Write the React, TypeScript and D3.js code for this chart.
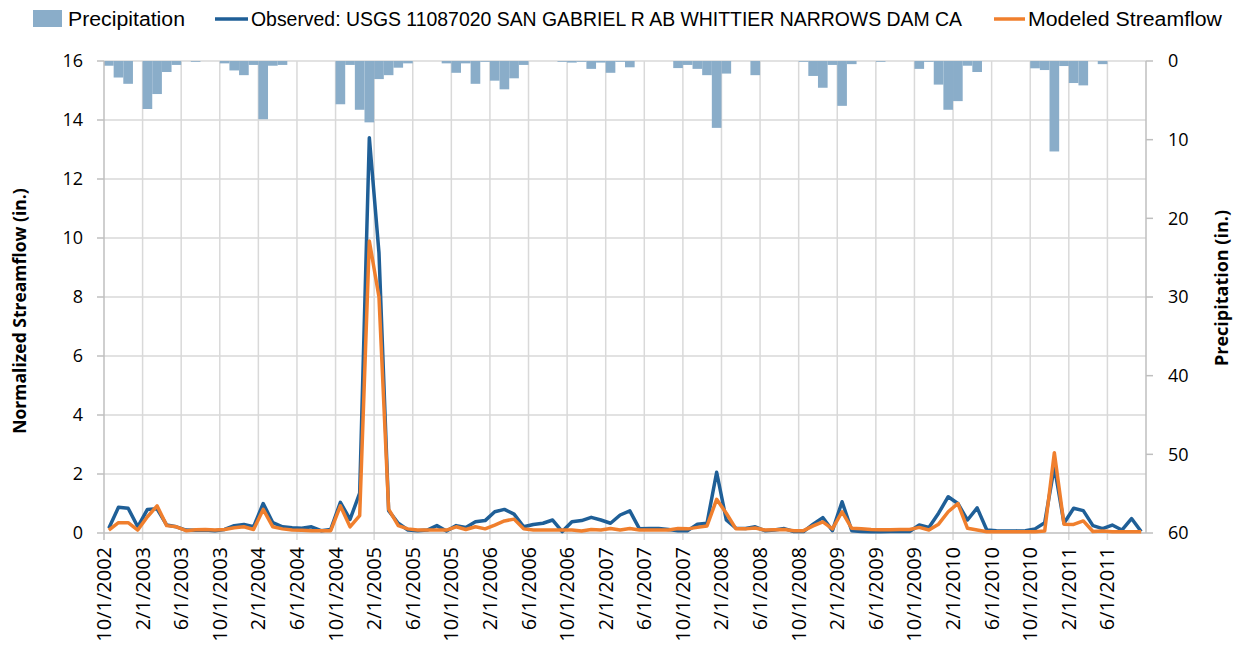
import React from "react";
import * as d3 from "d3";

// monthly values, Oct 2002 - Sep 2011
const precipitation = [
  0.6, 2.1, 2.9, 0, 6.1, 4.2, 1.4, 0.5, 0, 0.1, 0, 0,
  0.3, 1.2, 1.8, 0.5, 7.4, 0.6, 0.5, 0, 0, 0, 0, 0,
  5.5, 0.5, 6.2, 7.8, 2.3, 1.8, 0.85, 0.3, 0, 0, 0, 0.3,
  1.5, 0.3, 2.9, 0.1, 2.5, 3.6, 2.2, 0.5, 0, 0, 0, 0.1,
  0.2, 0.1, 1.0, 0.2, 1.5, 0.1, 0.8, 0, 0, 0, 0, 0.9,
  0.5, 1.0, 1.8, 8.5, 1.6, 0, 0, 1.8, 0, 0, 0, 0,
  0.1, 1.9, 3.4, 0.5, 5.7, 0.4, 0, 0, 0.1, 0, 0, 0,
  1.0, 0.1, 3.0, 6.2, 5.1, 0.6, 1.4, 0, 0, 0, 0, 0,
  0.93, 1.15, 11.5, 0.64, 2.8, 3.1, 0, 0.4, 0, 0, 0, 0,
];

const observed = [
  0.16, 0.87, 0.84, 0.21, 0.8, 0.82, 0.27, 0.21, 0.1, 0.09, 0.1, 0.08,
  0.12, 0.25, 0.29, 0.21, 1.0, 0.35, 0.21, 0.18, 0.16, 0.21, 0.08, 0.12,
  1.04, 0.46, 1.35, 13.4, 9.5, 0.76, 0.33, 0.1, 0.08, 0.1, 0.25, 0.07,
  0.25, 0.19, 0.38, 0.42, 0.72, 0.8, 0.64, 0.21, 0.29, 0.33, 0.44, 0.05,
  0.38, 0.42, 0.53, 0.44, 0.33, 0.61, 0.75, 0.14, 0.15, 0.15, 0.12, 0.08,
  0.08, 0.3, 0.33, 2.06, 0.44, 0.16, 0.15, 0.21, 0.08, 0.1, 0.15, 0.05,
  0.05, 0.3, 0.52, 0.08, 1.06, 0.08, 0.05, 0.04, 0.04, 0.05, 0.05, 0.05,
  0.27, 0.19, 0.67, 1.23, 1.0, 0.44, 0.85, 0.1, 0.08, 0.07, 0.07, 0.08,
  0.14, 0.35, 2.25, 0.33, 0.84, 0.76, 0.25, 0.15, 0.27, 0.1, 0.49, 0.05,
];

const modeled = [
  0.1, 0.35, 0.35, 0.1, 0.55, 0.92, 0.25, 0.21, 0.08, 0.11, 0.12, 0.1,
  0.12, 0.18, 0.21, 0.12, 0.8, 0.21, 0.14, 0.1, 0.09, 0.08, 0.08, 0.08,
  0.92, 0.21, 0.59, 9.9, 8.0, 0.81, 0.25, 0.14, 0.1, 0.1, 0.1, 0.1,
  0.21, 0.12, 0.21, 0.14, 0.27, 0.41, 0.47, 0.14, 0.1, 0.1, 0.1, 0.1,
  0.1, 0.07, 0.12, 0.1, 0.15, 0.1, 0.15, 0.1, 0.1, 0.1, 0.1, 0.15,
  0.14, 0.19, 0.24, 1.14, 0.67, 0.14, 0.14, 0.17, 0.1, 0.11, 0.12, 0.08,
  0.08, 0.24, 0.38, 0.14, 0.72, 0.16, 0.14, 0.12, 0.11, 0.11, 0.12, 0.12,
  0.19, 0.1, 0.3, 0.72, 1.0, 0.16, 0.1, 0.04, 0.04, 0.04, 0.04, 0.04,
  0.04, 0.07, 2.72, 0.3, 0.29, 0.41, 0.05, 0.07, 0.04, 0.04, 0.04, 0.04,
];

// one label every 4 months
const dateLabels = [
  "10/1/2002", "2/1/2003", "6/1/2003", "10/1/2003", "2/1/2004", "6/1/2004",
  "10/1/2004", "2/1/2005", "6/1/2005", "10/1/2005", "2/1/2006", "6/1/2006",
  "10/1/2006", "2/1/2007", "6/1/2007", "10/1/2007", "2/1/2008", "6/1/2008",
  "10/1/2008", "2/1/2009", "6/1/2009", "10/1/2009", "2/1/2010", "6/1/2010",
  "10/1/2010", "2/1/2011", "6/1/2011",
];

const flowTicks = [0, 2, 4, 6, 8, 10, 12, 14, 16];
const precipTicks = [0, 10, 20, 30, 40, 50, 60];

const width = 1239;
const height = 650;
const margin = { top: 61, right: 93, bottom: 117, left: 104 };
const fontFamily = "'Open Sans', 'DejaVu Sans', sans-serif";
const legendFont = "'Liberation Sans Narrow', 'Liberation Sans', sans-serif";

const App = () => {
  const n = precipitation.length;
  const x = d3.scaleLinear().domain([0, n]).range([margin.left, width - margin.right]);
  const y = d3.scaleLinear().domain([0, 16]).range([height - margin.bottom, margin.top]);
  const yP = d3.scaleLinear().domain([0, 60]).range([margin.top, height - margin.bottom]);

  const line = d3
    .line<number>()
    .x((d, i) => x(i + 0.5))
    .y((d) => y(d));

  const x0 = x(0);
  const x1 = x(n);
  const yBase = y(0);
  const gridColor = "#d9d9d9";
  const axisColor = "#bfbfbf";

  return (
    <svg
      width={width}
      height={height}
      style={{ position: "absolute", left: 0, top: 0, background: "#fff" }}
    >
      {/* gridlines */}
      {flowTicks.slice(1).map((t) => (
        <line key={"h" + t} x1={x0} x2={x1} y1={y(t)} y2={y(t)} stroke={gridColor} strokeWidth={1.5} />
      ))}
      {dateLabels.map((lab, k) =>
        k === 0 ? null : (
          <line key={"v" + k} x1={x(k * 4)} x2={x(k * 4)} y1={margin.top} y2={yBase + 7} stroke={gridColor} strokeWidth={1.5} />
        )
      )}

      {/* precipitation bars hanging from top */}
      {precipitation.map((p, i) =>
        p > 0 ? (
          <rect
            key={"b" + i}
            x={x(i)}
            y={yP(0)}
            width={x(i + 1) - x(i)}
            height={yP(p) - yP(0)}
            fill="#8aadc9"
          />
        ) : null
      )}

      {/* axes */}
      <line x1={x0} x2={x0} y1={margin.top} y2={yBase} stroke={axisColor} strokeWidth={1.5} />
      <line x1={x1} x2={x1} y1={margin.top} y2={yBase} stroke={axisColor} strokeWidth={1.5} />
      <line x1={x0} x2={x1} y1={yBase} y2={yBase} stroke={axisColor} strokeWidth={1.5} />
      <line x1={x0} x2={x0} y1={yBase} y2={yBase + 7} stroke={axisColor} strokeWidth={1.5} />
      {flowTicks.map((t) => (
        <g key={"lt" + t}>
          <line x1={x0 - 7} x2={x0} y1={y(t)} y2={y(t)} stroke={axisColor} strokeWidth={1.5} />
          <text x={83} y={y(t)} dy="0.35em" textAnchor="end" fontSize={18} fontFamily={fontFamily} fill="#000">
            {t}
          </text>
        </g>
      ))}
      {precipTicks.map((t) => (
        <g key={"rt" + t}>
          <line x1={x1} x2={x1 + 7} y1={yP(t)} y2={yP(t)} stroke={axisColor} strokeWidth={1.5} />
          <text x={1168} y={yP(t)} dy="0.35em" textAnchor="start" fontSize={18} fontFamily={fontFamily} fill="#000">
            {t}
          </text>
        </g>
      ))}
      {dateLabels.map((lab, k) => (
        <text
          key={"d" + k}
          transform={`translate(${x(k * 4)},${yBase + 14}) rotate(-90)`}
          dy="0.35em"
          textAnchor="end"
          fontSize={20}
          fontFamily={fontFamily}
          fill="#000"
        >
          {lab}
        </text>
      ))}

      {/* streamflow lines */}
      <path d={line(observed) || ""} fill="none" stroke="#1f5f97" strokeWidth={3.5} strokeLinejoin="round" />
      <path d={line(modeled) || ""} fill="none" stroke="#f07f2d" strokeWidth={3.5} strokeLinejoin="round" />

      {/* axis titles */}
      <text
        transform="translate(20,311) rotate(-90)"
        dy="0.35em"
        textAnchor="middle"
        fontSize={17.5}
        fontWeight="bold"
        fontFamily={fontFamily}
      >
        Normalized Streamflow (in.)
      </text>
      <text
        transform="translate(1222,288) rotate(-90)"
        dy="0.35em"
        textAnchor="middle"
        fontSize={18}
        fontWeight="bold"
        fontFamily={fontFamily}
      >
        Precipitation (in.)
      </text>

      {/* legend */}
      <rect x={33} y={10} width={29} height={17} fill="#8aadc9" />
      <text x={68} y={19} dy="0.35em" fontSize={20} fontFamily={legendFont} textLength={117} lengthAdjust="spacingAndGlyphs">
        Precipitation
      </text>
      <line x1={215} x2={248} y1={19} y2={19} stroke="#1f5f97" strokeWidth={3.5} />
      <text x={251} y={19} dy="0.35em" fontSize={20} fontFamily={legendFont} textLength={711} lengthAdjust="spacingAndGlyphs">
        Observed: USGS 11087020 SAN GABRIEL R AB WHITTIER NARROWS DAM CA
      </text>
      <line x1={994} x2={1025} y1={19} y2={19} stroke="#f07f2d" strokeWidth={3.5} />
      <text x={1028} y={19} dy="0.35em" fontSize={20} fontFamily={legendFont} textLength={194} lengthAdjust="spacingAndGlyphs">
        Modeled Streamflow
      </text>
    </svg>
  );
};

export default App;
